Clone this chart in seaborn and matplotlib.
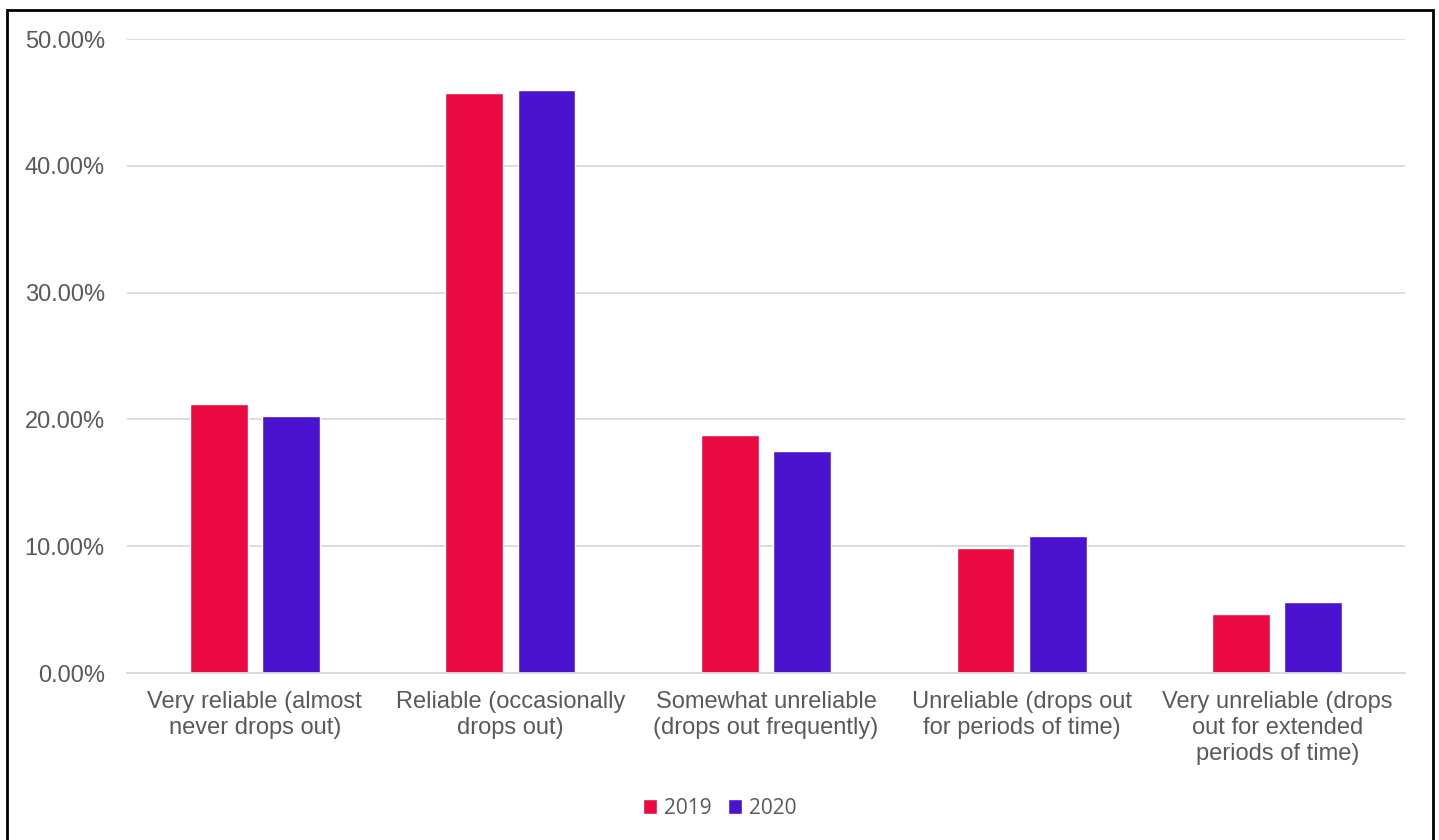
import pandas as pd
import numpy as np
import matplotlib.pyplot as plt
import seaborn as sns
from matplotlib.patches import Rectangle
from matplotlib.ticker import PercentFormatter

categories = [
    "Very reliable (almost\nnever drops out)",
    "Reliable (occasionally\ndrops out)",
    "Somewhat unreliable\n(drops out frequently)",
    "Unreliable (drops out\nfor periods of time)",
    "Very unreliable (drops\nout for extended\nperiods of time)",
]
years = ["2019", "2020"]
values_2019 = [21.2, 45.74, 18.74, 9.83, 4.63]
values_2020 = [20.29, 45.95, 17.48, 10.8, 5.62]
colors = ["#EA0A41", "#4B13D0"]

df = pd.DataFrame({
    "category": categories * 2,
    "year": [years[0]] * 5 + [years[1]] * 5,
    "value": values_2019 + values_2020,
})

sns.set_style("white")
plt.rcParams["font.family"] = ["Liberation Sans", "DejaVu Sans"]

fig = plt.figure(figsize=(14.39, 8.4), dpi=100)
ax = fig.add_axes([127 / 1439, 1 - 673 / 840, 1278 / 1439, 634 / 840])

sns.barplot(
    data=df, x="category", y="value", hue="year",
    palette=colors, width=0.565, gap=0.2, ax=ax,
    saturation=1, legend=True,
)

ax.set_ylim(0, 50)
ax.set_xlim(-0.5, 4.5)
ax.set_yticks(np.arange(0, 51, 10))
ax.yaxis.set_major_formatter(PercentFormatter(decimals=2))
ax.grid(axis="y", color="#D9D9D9", linewidth=1.3)
ax.set_axisbelow(True)
for s in ["top", "right", "left"]:
    ax.spines[s].set_visible(False)
ax.spines["bottom"].set_color("#D9D9D9")
ax.spines["bottom"].set_linewidth(1.3)
ax.tick_params(axis="both", length=0, labelsize=17, colors="#595959")
ax.tick_params(axis="x", pad=13)
ax.tick_params(axis="y", pad=16)
ax.set_xlabel("")
ax.set_ylabel("")
for lbl in ax.get_xticklabels():
    lbl.set_linespacing(1.24)

handles, labels = ax.get_legend_handles_labels()
ax.legend_.remove()
leg = fig.legend(
    handles, labels, loc="center", bbox_to_anchor=(0.5, 1 - 808 / 840),
    ncol=2, frameon=False, handlelength=0.7, handleheight=0.7,
    handletextpad=0.3, columnspacing=0.8,
    prop={"family": ["Open Sans", "DejaVu Sans"], "size": 15},
)
for t in leg.get_texts():
    t.set_color("#595959")

fig.patches.append(Rectangle(
    (7 / 1439, -0.05), 1426 / 1439, 1.05 - 10 / 840,
    transform=fig.transFigure, fill=False, edgecolor="black", linewidth=2,
))

fig.savefig("out.png", dpi=100)
